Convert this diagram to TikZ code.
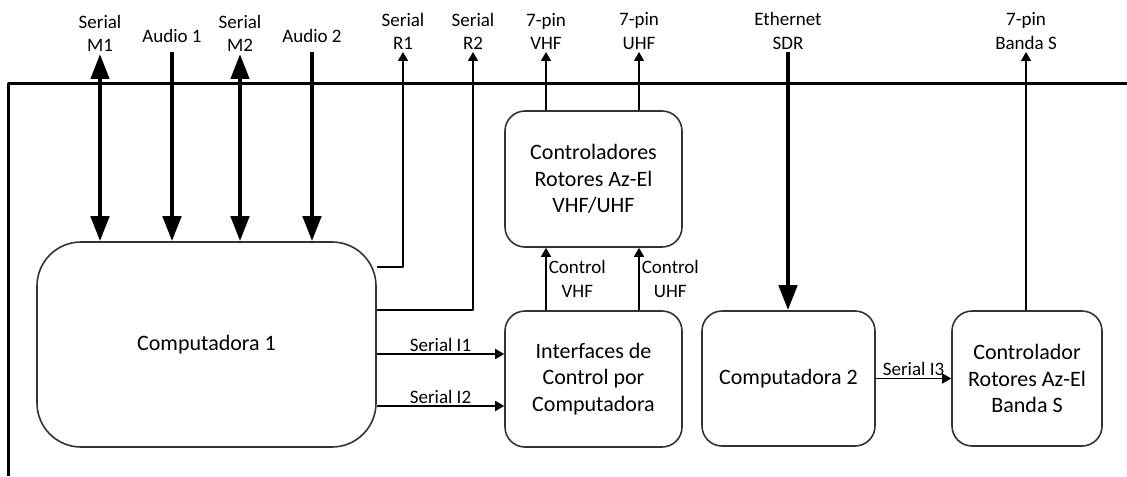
\documentclass[tikz,border=0pt]{standalone}
\usepackage{fontspec}
\setmainfont{Carlito}
\usetikzlibrary{arrows.meta}

\begin{document}
\begin{tikzpicture}[line join=round,x=0.5pt,y=-0.5pt,
    blk/.style={draw=black!80,line width=0.8pt,rounded corners=10pt,align=center,inner sep=0pt,
      font=\fontsize{11}{13.25}\selectfont},
    lbl/.style={align=center,inner sep=1pt,font=\fontsize{9.5}{11.75}\selectfont},
    sig/.style={line width=0.8pt,-{Triangle[length=4.5pt,width=5pt]}},
    bus/.style={line width=2.2pt,-{Triangle[length=12.5pt,width=9pt]}},
    busboth/.style={line width=2.2pt,{Triangle[length=12.5pt,width=9pt]}-{Triangle[length=12.5pt,width=9pt]}}]
      \useasboundingbox (0,0) rectangle (1127,476);
      % marco
      \draw[line width=1.5pt] (1127,84) -- (8,84) -- (8,476);
      % bloques
      \node[blk,minimum width=169.5pt,minimum height=102.5pt,rounded corners=22pt] (comp1) at (206.5,344.5) {Computadora 1};
      \node[blk,minimum width=88.5pt,minimum height=68pt] (ctrl) at (593.5,179) {Controladores\\Rotores Az-El\\VHF/UHF};
      \node[blk,minimum width=88.5pt,minimum height=68pt] (iface) at (593.5,379) {Interfaces de\\Control por\\Computadora};
      \node[blk,minimum width=86.5pt,minimum height=67.5pt] (comp2) at (788.5,378.5) {Computadora 2};
      \node[blk,minimum width=75pt,minimum height=67.5pt] (bandas) at (1027,378.5) {Controlador\\Rotores Az-El\\Banda S};
      % etiquetas de arriba
      \node[lbl,anchor=south] (lm1) at (100,54) {Serial\\M1};
      \node[lbl,anchor=south] (la1) at (172,45) {Audio 1};
      \node[lbl,anchor=south] (lm2) at (240,54) {Serial\\M2};
      \node[lbl,anchor=south] (la2) at (312,45) {Audio 2};
      \node[lbl,anchor=south] (lr1) at (403,52) {Serial\\R1};
      \node[lbl,anchor=south] (lr2) at (473,52) {Serial\\R2};
      \node[lbl,anchor=south] (lvhf) at (546,52) {7-pin\\VHF};
      \node[lbl,anchor=south] (luhf) at (639,52) {7-pin\\UHF};
      \node[lbl,anchor=south] (leth) at (788,52) {Ethernet\\SDR};
      \node[lbl,anchor=south] (lbs) at (1026,52) {7-pin\\Banda S};
      % Computadora 1
      \draw[busboth] (lm1.south) -- (lm1.south |- comp1.north);
      \draw[bus] ([yshift=-3.5pt]la1.south) -- (la1.south |- comp1.north);
      \draw[busboth] (lm2.south) -- (lm2.south |- comp1.north);
      \draw[bus] ([yshift=-3.5pt]la2.south) -- (la2.south |- comp1.north);
      \draw[sig] ([yshift=38.75pt]comp1.east) -| (lr1.south);
      \draw[sig] ([yshift=17.25pt]comp1.east) -| (lr2.south);
      \draw[sig] ([yshift=-4.75pt]comp1.east) coordinate (i1) -- (i1 -| iface.west) node[midway,above,lbl] {Serial I1};
      \draw[sig] ([yshift=-30.75pt]comp1.east) coordinate (i2) -- (i2 -| iface.west) node[midway,above,lbl] {Serial I2};
      % VHF/UHF
      \draw[sig] (iface.north -| lvhf) -- (ctrl.south -| lvhf) node[midway,right,lbl] {Control\\VHF};
      \draw[sig] (iface.north -| luhf) -- (ctrl.south -| luhf) node[midway,right,lbl] {Control\\UHF};
      \draw[sig] (ctrl.north -| lvhf) -- (lvhf.south);
      \draw[sig] (ctrl.north -| luhf) -- (luhf.south);
      % Computadora 2 y banda S
      \draw[bus] (leth.south) -- (leth.south |- comp2.north);
      \draw[sig] (comp2.east) -- (bandas.west) node[midway,above,lbl] {Serial I3};
      \draw[sig] (bandas.north -| lbs) -- (lbs.south);
    \end{tikzpicture}
\end{document}
